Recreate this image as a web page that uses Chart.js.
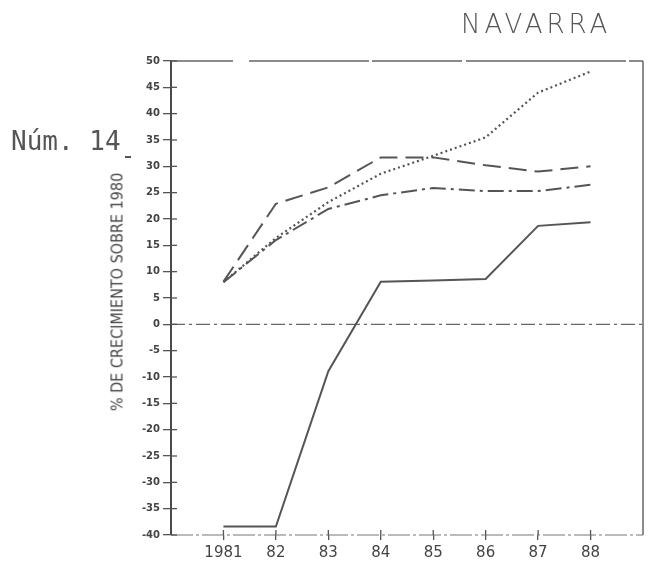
<!DOCTYPE html>
<html>
<head>
<meta charset="utf-8">
<script src="https://cdn.jsdelivr.net/npm/chart.js@4/dist/chart.umd.min.js"></script>
<style>
  html, body { margin: 0; padding: 0; background: #fff; }
  #wrap { position: relative; width: 648px; height: 562px; }
  #navarra { position: absolute; left: 461px; top: 11px; font: 300 26px/26px "DejaVu Sans", sans-serif; color: #555; letter-spacing: 4px; }
  #num { position: absolute; left: 11px; top: 128px; font: 26px/26px "DejaVu Sans Mono", monospace; color: #555; }
  #mark { position: absolute; left: 125px; top: 156px; width: 6px; height: 2px; background: #555; }
  #ytitle { position: absolute; left: 117px; top: 292px; transform: translate(-50%, -50%) rotate(-90deg);
            font: 16px "DejaVu Sans Condensed", "DejaVu Sans", sans-serif; color: #444; white-space: nowrap; }
</style>
</head>
<body>
<div id="wrap">
  <canvas id="growthChart" width="648" height="562"></canvas>
  <div id="navarra">NAVARRA</div>
  <div id="num">Núm. 14</div>
  <div id="mark"></div>
  <div id="ytitle">% DE CRECIMIENTO SOBRE 1980</div>
</div>
<script>
// Years on the x axis and their printed labels
const years = [1981, 1982, 1983, 1984, 1985, 1986, 1987, 1988];
const yearLabels = ['1981', '82', '83', '84', '85', '86', '87', '88'];

// Series (% growth over 1980)
const solidSeries = [-38.4, -38.4, -8.9, 8.1, 8.3, 8.6, 18.7, 19.4];
const longDashSeries = [8.1, 22.9, 26.0, 31.7, 31.7, 30.2, 29.0, 30.0];
const dottedSeries = [8.0, 16.4, 23.2, 28.6, 32.0, 35.5, 44.0, 48.0];
const dashDotSeries = [8.0, 16.0, 21.9, 24.5, 25.9, 25.3, 25.3, 26.5];

const yTicks = [50, 45, 40, 35, 30, 25, 20, 15, 10, 5, 0, -5, -10, -15, -20, -25, -30, -35, -40];

const ink = '#555';

function toPoints(values) {
  return years.map(function (yr, i) { return { x: yr, y: values[i] }; });
}

// Draws the frame, the crossing tick marks and the zero line
const framePlugin = {
  id: 'frame',
  beforeDatasetsDraw: function (chart) {
    const ctx = chart.ctx;
    const a = chart.chartArea;
    const xs = chart.scales.x;
    const ys = chart.scales.y;
    ctx.save();
    ctx.strokeStyle = '#666';
    ctx.lineWidth = 1.5;
    // top (dashed) and bottom (dash-dot) borders
    ctx.setLineDash([62, 16, 120, 3, 90, 4, 160, 3]);
    ctx.beginPath();
    ctx.moveTo(a.left, a.top);
    ctx.lineTo(a.right, a.top);
    ctx.stroke();
    ctx.setLineDash([22, 3, 3, 3]);
    ctx.strokeStyle = '#777';
    ctx.lineWidth = 1.2;
    ctx.beginPath();
    ctx.moveTo(a.left, a.bottom);
    ctx.lineTo(a.right, a.bottom);
    ctx.stroke();
    // right border
    ctx.setLineDash([]);
    ctx.strokeStyle = '#666';
    ctx.lineWidth = 1.5;
    ctx.beginPath();
    ctx.moveTo(a.right, a.top);
    ctx.lineTo(a.right, a.bottom);
    ctx.stroke();
    // zero line
    const y0 = ys.getPixelForValue(0);
    ctx.setLineDash([14, 4, 3, 4]);
    ctx.lineWidth = 1.2;
    ctx.beginPath();
    ctx.moveTo(a.left, y0);
    ctx.lineTo(a.right, y0);
    ctx.stroke();
    ctx.setLineDash([]);
    // inner halves of the tick marks
    ctx.strokeStyle = ink;
    ctx.lineWidth = 1.3;
    ys.ticks.forEach(function (t) {
      const py = ys.getPixelForValue(t.value);
      ctx.beginPath();
      ctx.moveTo(a.left, py);
      ctx.lineTo(a.left + 6, py);
      ctx.stroke();
    });
    xs.ticks.forEach(function (t) {
      const px = xs.getPixelForValue(t.value);
      ctx.beginPath();
      ctx.moveTo(px, a.bottom);
      ctx.lineTo(px, a.bottom - 5);
      ctx.stroke();
    });
    ctx.restore();
  }
};

const ctx = document.getElementById('growthChart').getContext('2d');
const growthChart = new Chart(ctx, {
  type: 'line',
  data: {
    datasets: [
      { data: toPoints(solidSeries), borderColor: ink, borderWidth: 2, pointRadius: 0, tension: 0 },
      { data: toPoints(longDashSeries), borderColor: ink, borderWidth: 2, borderDash: [18, 8], pointRadius: 0, tension: 0 },
      { data: toPoints(dottedSeries), borderColor: ink, borderWidth: 2.2, borderDash: [2, 3], pointRadius: 0, tension: 0 },
      { data: toPoints(dashDotSeries), borderColor: ink, borderWidth: 2, borderDash: [16, 5, 3, 5], pointRadius: 0, tension: 0 }
    ]
  },
  options: {
    responsive: false,
    animation: false,
    layout: { padding: { top: 61, right: 5, left: 0, bottom: 0 } },
    plugins: { legend: { display: false }, tooltip: { enabled: false } },
    scales: {
      x: {
        type: 'linear',
        min: 1980,
        max: 1989,
        afterBuildTicks: function (scale) {
          scale.ticks = years.map(function (v) { return { value: v }; });
        },
        afterFit: function (scale) { scale.height = 27; },
        grid: { drawOnChartArea: false, tickLength: 5, color: ink, lineWidth: 1.3 },
        border: { display: false },
        ticks: {
          padding: 4,
          color: '#444',
          font: { family: 'DejaVu Sans', size: 15 },
          maxRotation: 0,
          callback: function (value) {
            const i = years.indexOf(value);
            return i >= 0 ? yearLabels[i] : '';
          }
        }
      },
      y: {
        min: -40,
        max: 50,
        afterBuildTicks: function (scale) {
          scale.ticks = yTicks.map(function (v) { return { value: v }; });
        },
        afterFit: function (scale) { scale.width = 171; },
        grid: { drawOnChartArea: false, tickLength: 8, color: ink, lineWidth: 1.3 },
        border: { color: '#4a4a4a', width: 2 },
        ticks: {
          padding: 3,
          color: '#444',
          font: { family: 'DejaVu Sans', size: 10, weight: 'bold' }
        }
      }
    }
  },
  plugins: [framePlugin]
});
</script>
</body>
</html>
